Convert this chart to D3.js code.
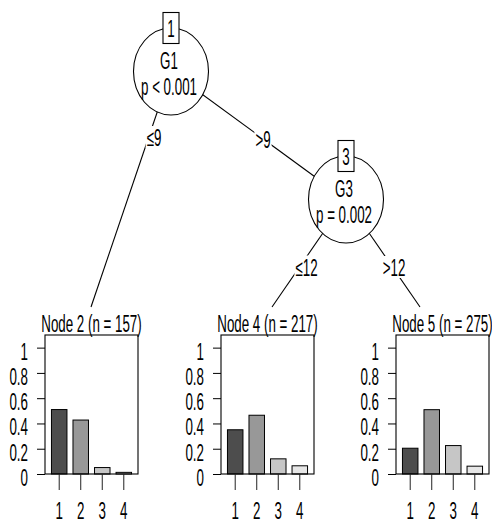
<!DOCTYPE html>
<html>
<head>
<meta charset="utf-8">
<script src="https://cdn.jsdelivr.net/npm/d3@7"></script>
<style>
  html, body { margin: 0; padding: 0; background: #fff; }
  svg { display: block; }
  text { font-family: "Liberation Sans", Arial, sans-serif; font-size: 23px; fill: #000; }
</style>
</head>
<body>
<div id="chart"></div>
<script>
// class labels and tick values
var classes = ["1", "2", "3", "4"];
var yTicks = [0, 0.2, 0.4, 0.6, 0.8, 1];

// inner nodes
var innerIds = [1, 3];
var innerVars = ["G1", "G3"];
var innerP = ["p < 0.001", "p = 0.002"];

// split labels (node1 left, node1 right, node3 left, node3 right)
var edgeLabels = ["\u22649", ">9", "\u226412", ">12"];

// terminal nodes
var terminalIds = [2, 4, 5];
var terminalN = [157, 217, 275];
var props2 = [0.510, 0.427, 0.051, 0.013];
var props4 = [0.350, 0.465, 0.120, 0.065];
var props5 = [0.204, 0.509, 0.225, 0.062];
var terminalProps = [props2, props4, props5];

var barFills = ["#4D4D4D", "#989898", "#C6C6C6", "#E6E6E6"];

// layout
var W = 492, H = 524, SX = 0.58;
var inner = [{cx: 171, cy: 71.5}, {cx: 346, cy: 199.5}],
  rx = 37.5, ry = 43.5;
var panel = {lefts: [45, 221, 396], width: 93, top: 335, bottom: 474, anchorY: 307},
  anchorsX = [91, 272, 420];
// edges: from inner index to target, label position
var edges = [
  {from: 0, to: {x: anchorsX[0], y: panel.anchorY}, lx: 154, ly: 137},
  {from: 0, to: inner[1], lx: 263, ly: 139},
  {from: 1, to: {x: anchorsX[1], y: panel.anchorY}, lx: 306.5, ly: 266.5},
  {from: 1, to: {x: anchorsX[2], y: panel.anchorY}, lx: 394, ly: 267}
];

var svg = d3.select("#chart").append("svg")
  .attr("width", W)
  .attr("height", H);

function label(g, x, y, s, anchor) {
  return g.append("text")
    .attr("transform", "translate(" + x + "," + y + ") scale(" + SX + ",1)")
    .attr("text-anchor", anchor || "middle")
    .text(s);
}

// Draw edges
var eg = svg.append("g");
edges.forEach(function(e) {
  var p = inner[e.from];
  eg.append("line")
    .attr("x1", p.cx).attr("y1", p.cy)
    .attr("x2", e.to.x !== undefined ? e.to.x : e.to.cx)
    .attr("y2", e.to.y !== undefined ? e.to.y : e.to.cy)
    .attr("stroke", "#000")
    .attr("stroke-width", 1.1);
});
edges.forEach(function(e, i) {
  var t = label(eg, e.lx, e.ly + 9, edgeLabels[i]);
  var w = t.node().getBBox().width * SX;
  eg.insert("rect", function() { return t.node(); })
    .attr("x", e.lx - w / 2 - 1)
    .attr("y", e.ly - 11)
    .attr("width", w + 2)
    .attr("height", 22)
    .attr("fill", "#fff");
});

// Draw inner nodes
inner.forEach(function(n, i) {
  var g = svg.append("g");
  g.append("ellipse")
    .attr("cx", n.cx).attr("cy", n.cy)
    .attr("rx", rx).attr("ry", ry)
    .attr("fill", "#fff")
    .attr("stroke", "#000")
    .attr("stroke-width", 1.1);
  label(g, n.cx - 2, n.cy - 3, innerVars[i]);
  label(g, n.cx - 2, n.cy + 23.5, innerP[i]);
  var by = n.cy - ry;
  g.append("rect")
    .attr("x", n.cx - 8).attr("y", by - 15.5)
    .attr("width", 16).attr("height", 31)
    .attr("fill", "#fff")
    .attr("stroke", "#000")
    .attr("stroke-width", 1.1);
  label(g, n.cx, by + 9, String(innerIds[i]));
});

// Draw terminal panels
var yScale = d3.scaleLinear().domain([0, 1.1]).range([panel.bottom, panel.top]);
terminalIds.forEach(function(id, idx) {
  var left = panel.lefts[idx],
    right = left + panel.width,
    g = svg.append("g");
  var xScale = d3.scaleBand().domain(classes).range([left, right])
    .paddingInner(0.28).paddingOuter(0.3);
  var data = terminalProps[idx].map(function(v, i) { return {cls: classes[i], v: v}; });

  label(g, (left + right) / 2, 332, "Node " + id + " (n = " + terminalN[idx] + ")");

  // bars
  g.selectAll("rect.bar")
    .data(data).enter().append("rect")
      .attr("class", "bar")
      .attr("x", function(d) { return xScale(d.cls); })
      .attr("y", function(d) { return yScale(d.v); })
      .attr("width", xScale.bandwidth())
      .attr("height", function(d) { return yScale(0) - yScale(d.v); })
      .attr("fill", function(d, i) { return barFills[i]; })
      .attr("stroke", "#000")
      .attr("stroke-width", 1);

  // box
  g.append("rect")
    .attr("x", left).attr("y", panel.top)
    .attr("width", panel.width).attr("height", panel.bottom - panel.top)
    .attr("fill", "none")
    .attr("stroke", "#000")
    .attr("stroke-width", 1.1);

  // Y axis
  var ya = g.append("g")
    .attr("transform", "translate(" + left + ",0)")
    .call(d3.axisLeft(yScale).tickValues(yTicks).tickSize(8).tickFormat(d3.format("~g")));
  ya.select(".domain").remove();
  ya.selectAll(".tick line").attr("stroke", "#000");
  ya.selectAll(".tick text")
    .attr("x", null).attr("dy", null)
    .attr("fill", "#000")
    .attr("text-anchor", "end")
    .attr("transform", "translate(-17,11.5) scale(" + SX + ",1)");
  ya.attr("font-size", null).attr("font-family", null);

  // X axis
  var xa = g.append("g")
    .attr("transform", "translate(0," + panel.bottom + ")")
    .call(d3.axisBottom(xScale).tickSize(16).tickSizeOuter(0));
  xa.select(".domain").remove();
  xa.selectAll(".tick line").attr("stroke", "#222");
  xa.selectAll(".tick text")
    .attr("y", null).attr("dy", null)
    .attr("fill", "#000")
    .attr("text-anchor", "middle")
    .attr("transform", "translate(0,45) scale(" + SX + ",1)");
  xa.attr("font-size", null).attr("font-family", null);
});
</script>
</body>
</html>
